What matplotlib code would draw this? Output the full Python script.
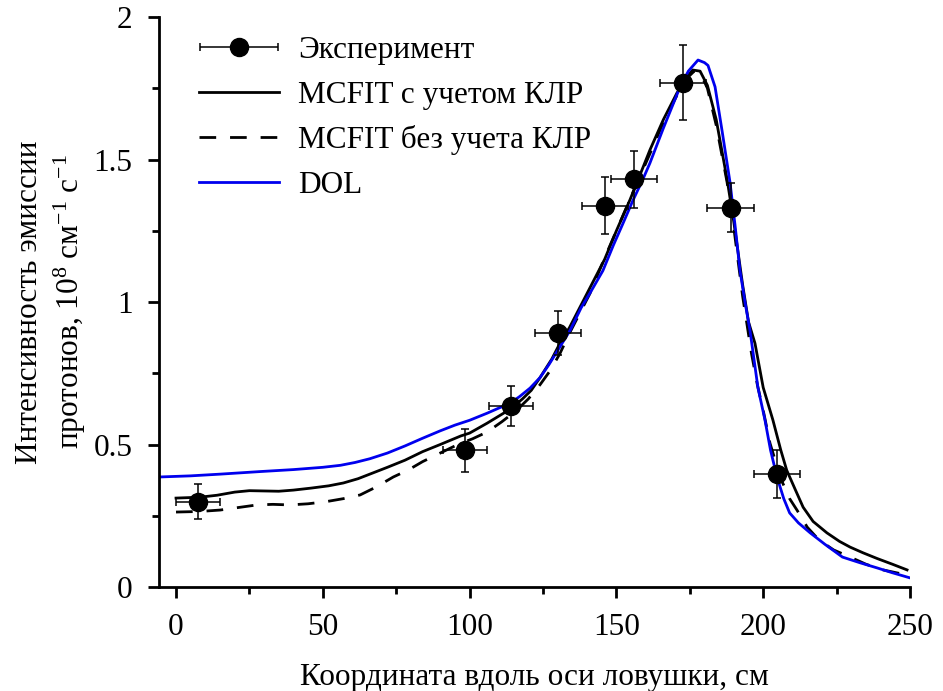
import matplotlib
matplotlib.use('Agg')
import matplotlib.pyplot as plt
from matplotlib.legend_handler import HandlerErrorbar
from matplotlib.ticker import MultipleLocator, FuncFormatter

plt.rcParams['font.family'] = ['Liberation Serif', 'DejaVu Serif']
plt.rcParams['mathtext.fontset'] = 'custom'
plt.rcParams['mathtext.rm'] = 'Liberation Serif'
plt.rcParams['mathtext.it'] = 'Liberation Serif:italic'

# Эксперимент
exp_x = [7.5, 98.4, 114, 130, 146, 156, 172.7, 189, 204.7]
exp_y = [0.30, 0.48, 0.635, 0.89, 1.337, 1.43, 1.77, 1.33, 0.396]
exp_xerr = [7.5, 7.5, 7.5, 7.8, 7.8, 7.8, 7.8, 8, 8]
exp_yerr = [0.06, 0.075, 0.07, 0.077, 0.1, 0.1, 0.13, 0.086, 0.085]

# MCFIT с учетом КЛР
kl_x = [0, 8, 14, 20, 25, 30, 35, 40, 46, 52, 57, 62, 67, 72, 78, 84, 90, 97,
        100, 106, 110, 114, 118, 121, 124, 128, 131, 134, 138, 142, 146, 150,
        154.6, 158, 161.4, 166, 170.6, 174, 176, 178.5, 181, 184, 187.7, 190,
        193, 195, 197.2, 200, 203.3, 206, 208, 211, 213.6, 217, 221.7, 226,
        229.6, 234, 238.8, 244, 249]
kl_y = [0.312, 0.315, 0.322, 0.333, 0.338, 0.337, 0.336, 0.34, 0.347, 0.355,
        0.365, 0.38, 0.40, 0.42, 0.445, 0.475, 0.50, 0.53, 0.54, 0.575, 0.60,
        0.625, 0.66, 0.69, 0.735, 0.80, 0.86, 0.91, 0.99, 1.07, 1.15, 1.25,
        1.358, 1.445, 1.533, 1.64, 1.733, 1.79, 1.814, 1.81, 1.76, 1.64, 1.43,
        1.28, 1.06, 0.93, 0.855, 0.70, 0.586, 0.48, 0.41, 0.34, 0.28, 0.23,
        0.19, 0.16, 0.14, 0.12, 0.10, 0.08, 0.06]

# MCFIT без учета КЛР
nokl_x = [0, 8, 15, 22, 27.6, 33, 38.8, 45, 51.4, 57, 62.7, 68, 74, 79, 84, 90,
          96, 101, 106, 111, 116, 120, 124, 127.5, 130.8, 134, 138, 141, 146,
          150, 154.6, 158, 161.4, 166, 170.6, 174, 176.5, 178.5, 181, 184,
          187.7, 190, 193, 196, 198, 200, 202.3, 206, 209, 211.5, 215, 219,
          224, 229.6, 235, 240.8, 249]
nokl_y = [0.263, 0.265, 0.27, 0.28, 0.288, 0.29, 0.288, 0.292, 0.30, 0.31,
          0.323, 0.35, 0.386, 0.41, 0.44, 0.47, 0.50, 0.52, 0.544, 0.58, 0.62,
          0.66, 0.71, 0.76, 0.82, 0.89, 0.97, 1.03, 1.155, 1.25, 1.36, 1.44,
          1.52, 1.63, 1.725, 1.785, 1.81, 1.805, 1.75, 1.62, 1.42, 1.26, 1.02,
          0.82, 0.71, 0.62, 0.505, 0.38, 0.31, 0.27, 0.21, 0.165, 0.13, 0.105,
          0.08, 0.06, 0.042]

# DOL
dol_x = [-5.8, 5, 15, 28.6, 40, 50, 56, 61, 66, 72, 78, 84, 90, 95, 100, 106,
         110, 113.8, 117, 120.6, 124, 127, 130, 134.2, 138, 141.5, 145.4, 149,
         152, 155.7, 159, 161.4, 166, 171.7, 174.5, 177.8, 180, 181.2, 183.6,
         186, 188.7, 190.4, 192.1, 193.8, 195.5, 198.2, 200.6, 202.5, 204.7,
         207, 209, 212, 216, 221, 227, 233, 238.8, 244, 250]
dol_y = [0.386, 0.39, 0.396, 0.405, 0.412, 0.42, 0.427, 0.437, 0.45, 0.47,
         0.495, 0.522, 0.548, 0.568, 0.585, 0.61, 0.628, 0.645, 0.668, 0.698,
         0.735, 0.78, 0.83, 0.90, 0.98, 1.04, 1.11, 1.2, 1.27, 1.358, 1.43,
         1.487, 1.61, 1.755, 1.81, 1.849, 1.84, 1.83, 1.755, 1.6, 1.42, 1.27,
         1.11, 1.0, 0.90, 0.70, 0.586, 0.48, 0.386, 0.31, 0.26, 0.225, 0.19,
         0.15, 0.105, 0.085, 0.067, 0.05, 0.032]

fig = plt.figure(figsize=(9.43, 6.91), dpi=100)
ax = fig.add_axes([0.1686, 0.1505, 0.7964, 0.8249])

ax.plot(kl_x, kl_y, color='black', lw=2.0, label='MCFIT с учетом КЛР')
ax.plot(nokl_x, nokl_y, color='black', lw=2.0, dashes=(6, 5),
        label='MCFIT без учета КЛР')
ax.plot(dol_x, dol_y, color='#0000ee', lw=2.0, label='DOL')
eb = ax.errorbar(exp_x, exp_y, xerr=exp_xerr, yerr=exp_yerr, fmt='o', color='black',
                 ms=13, elinewidth=1.1, capsize=3, capthick=1.1, zorder=5,
                 label='Эксперимент')

ax.set_xlim(-5.8, 250)
ax.set_ylim(0, 2)
ax.xaxis.set_major_locator(MultipleLocator(50))
ax.xaxis.set_minor_locator(MultipleLocator(25))
ax.yaxis.set_major_locator(MultipleLocator(0.5))
ax.yaxis.set_minor_locator(MultipleLocator(0.25))
ax.yaxis.set_major_formatter(FuncFormatter(lambda v, p: '%g' % v))

for s in ['top', 'right']:
    ax.spines[s].set_visible(False)
for s in ['left', 'bottom']:
    ax.spines[s].set_linewidth(2)
ax.tick_params(which='major', direction='out', length=8, width=2, labelsize=22.5, pad=11)
ax.tick_params(which='minor', direction='out', length=5, width=2)

ax.set_xlabel('Координата вдоль оси ловушки, см', fontsize=22.5, labelpad=15)
ax.set_ylabel('Интенсивность эмиссии\nпротонов, 10$^{8}$ см$^{-1}$ с$^{-1}$',
              fontsize=22.5, labelpad=4, linespacing=1.3)

handles, labels = ax.get_legend_handles_labels()
order = [3, 0, 1, 2]
ax.legend([handles[i] for i in order], [labels[i] for i in order],
          loc='upper left', bbox_to_anchor=(0.016, 1.016), frameon=False,
          fontsize=22.5, handlelength=2.56, handletextpad=0.6, labelspacing=0.5,
          handler_map={type(eb): HandlerErrorbar(xerr_size=1.25, yerr_size=0)})

fig.savefig('out.png', dpi=100)
